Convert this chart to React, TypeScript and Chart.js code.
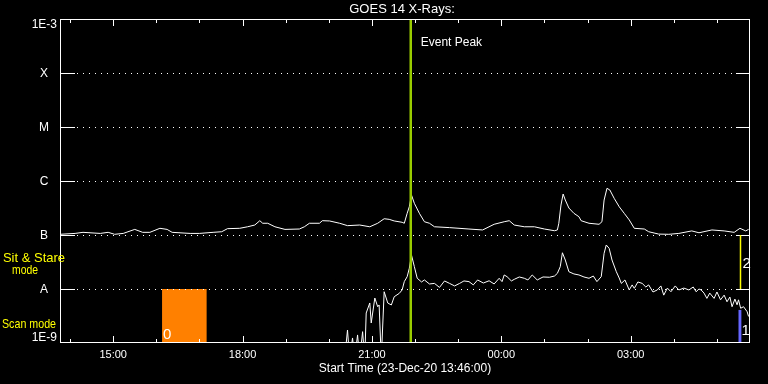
import { useEffect, useRef } from "react";
import { Chart, registerables } from "chart.js";

Chart.register(...registerables);

// ---------- data (minutes since start 23-Dec-20 13:46:00, flux W/m^2) ----------
const TITLE = "GOES 14 X-Rays:";
const X_TITLE = "Start Time (23-Dec-20 13:46:00)";

const longTimes = [
  0, 21, 32, 56, 67, 76, 88, 104, 115, 125, 139, 149, 156, 181, 194, 213, 225, 233, 250,
  261, 271, 278, 282, 289, 299, 313, 333, 340, 347, 361, 365, 375, 389, 400, 417, 431, 442,
  451, 458, 465, 476, 479, 483, 486, 489, 493, 500, 507, 514, 521, 542, 569, 588, 604, 618,
  625, 632, 646, 660, 674, 688, 692, 694, 697, 700, 703, 708, 715, 722, 725, 736, 750, 754,
  757, 761, 765, 771, 778, 785, 792, 799, 813, 819, 833, 847, 861, 879, 889, 907, 924, 938,
  946, 954, 958,
];
const longFlux = [
  1.03e-7, 1.07e-7, 1.12e-7, 1.07e-7, 1.12e-7, 1.03e-7, 1.07e-7, 1.27e-7, 1.12e-7, 1.12e-7,
  1.33e-7, 1.27e-7, 1.12e-7, 1.07e-7, 1.07e-7, 1.12e-7, 1.15e-7, 1.31e-7, 1.33e-7,
  1.42e-7, 1.53e-7, 1.84e-7, 1.65e-7, 1.65e-7, 1.42e-7, 1.27e-7, 1.29e-7, 1.42e-7, 1.65e-7,
  1.65e-7, 1.84e-7, 1.82e-7, 1.65e-7, 1.49e-7, 1.53e-7, 1.42e-7, 1.65e-7,
  2.0e-7, 1.95e-7, 1.82e-7, 1.72e-7, 1.65e-7, 2.52e-7, 3.34e-7, 5.5e-7, 3.86e-7, 2.52e-7,
  1.76e-7, 1.65e-7, 1.42e-7, 1.37e-7, 1.29e-7, 1.24e-7, 1.58e-7, 1.76e-7,
  1.84e-7, 1.53e-7, 1.42e-7, 1.42e-7, 1.29e-7, 1.2e-7, 1.24e-7, 1.65e-7, 3.59e-7, 5.74e-7,
  4.44e-7, 3.16e-7, 2.52e-7, 2.18e-7, 1.84e-7, 1.65e-7, 1.58e-7, 1.76e-7,
  4.44e-7, 7.33e-7, 6.81e-7, 4.78e-7, 3.34e-7, 2.52e-7, 1.9e-7, 1.33e-7, 1.29e-7, 1.15e-7,
  1.04e-7, 1.03e-7, 1.07e-7, 1.19e-7, 1.1e-7, 1.24e-7, 1.19e-7, 1.12e-7,
  1.33e-7, 1.19e-7, 1.27e-7,
];

const shortTimes = [
  396, 400, 403, 407, 410, 414, 417, 421, 424, 426, 431, 433, 438, 442, 444, 447, 451, 456,
  461, 465, 472, 476, 479, 483, 486, 489, 493, 497, 503, 507, 514, 521, 528, 535, 542, 549,
  556, 562, 569, 575, 581, 589, 597, 604, 611, 615, 618, 622, 628, 632, 639, 646, 651, 657,
  664, 672, 681, 688, 692, 696, 699, 703, 708, 715, 722, 729, 736, 742, 747, 753, 757, 760,
  764, 768, 774, 778, 781, 786, 792, 796, 799, 804, 810, 815, 819, 825, 831, 836, 840, 845,
  850, 856, 861, 868, 875, 881, 885, 889, 892, 896, 900, 904, 910, 914, 919, 924, 928, 932,
  935, 939, 942, 944, 947, 951, 956, 958,
];
const shortFlux = [
  5e-10, 1.74e-9, 5e-10, 1.24e-9, 5e-10, 1.41e-9, 5e-10, 1.62e-9, 5e-10, 3.59e-9, 5.51e-9,
  2.35e-9, 6.81e-9, 4.7e-9, 5.06e-9, 5e-10, 8.9e-9, 5.5e-9,
  5.06e-9, 7.2e-9, 8.3e-9, 9.6e-9, 1.37e-8, 1.69e-8, 2.42e-8, 4.26e-8, 2.59e-8, 1.58e-8,
  1.35e-8, 1.47e-8, 1.24e-8, 1.27e-8, 1.07e-8, 1.41e-8, 1.27e-8, 1.14e-8,
  1.27e-8, 1.41e-8, 1.37e-8, 1.19e-8, 1.47e-8, 1.29e-8, 1.42e-8, 1.24e-8, 1.58e-8, 1.37e-8,
  1.82e-8, 1.69e-8, 1.41e-8, 1.51e-8, 1.67e-8, 1.58e-8, 1.47e-8, 1.82e-8,
  1.47e-8, 1.67e-8, 1.65e-8, 1.74e-8, 1.95e-8, 2.59e-8, 4.69e-8, 3.44e-8, 2.09e-8, 1.9e-8,
  1.82e-8, 1.67e-8, 1.58e-8, 1.74e-8, 1.37e-8, 1.69e-8, 4.58e-8, 6.53e-8,
  5.67e-8, 3.44e-8, 2.09e-8, 1.6e-8, 1.27e-8, 1.47e-8, 0.96e-8, 1.19e-8, 1.03e-8, 1.35e-8,
  1.27e-8, 1.09e-8, 1.19e-8, 0.88e-8, 0.96e-8, 1.14e-8, 0.77e-8, 1.04e-8,
  0.89e-8, 1.14e-8, 0.96e-8, 1.04e-8, 0.96e-8, 1.09e-8, 0.89e-8, 1.0e-8, 0.96e-8, 0.84e-8,
  0.67e-8, 0.84e-8, 0.67e-8, 0.88e-8, 0.63e-8, 0.77e-8, 0.58e-8, 0.71e-8,
  0.47e-8, 0.65e-8, 0.51e-8, 0.63e-8, 0.44e-8, 0.47e-8, 0.38e-8, 0.31e-8,
];

const X_MIN = 0;
const X_MAX = 960;
const xTickMinutes = [74, 254, 434, 614, 794];
const xTickLabels = ["15:00", "18:00", "21:00", "00:00", "03:00"];
const hourTickMinutes = [14, 74, 134, 194, 254, 314, 374, 434, 494, 554, 614, 674, 734, 794, 854, 914];
const yDecades = [1e-3, 1e-4, 1e-5, 1e-6, 1e-7, 1e-8, 1e-9];
const yLabels = ["1E-3", "X", "M", "C", "B", "A", "1E-9"];

const eventPeakMinute = 488;
const scanBlock = [142, 204]; // orange scan-mode interval, label "0"
const scanBar = [944, 948]; // blue scan-mode interval, label "1"
const scanBarTop = 4.1e-9;
const stareMinute = 946; // sit & stare marker, label "2"

const FONT = "'Liberation Sans', Arial, sans-serif";

const goesPlugin = {
  id: "goesDecor",
  beforeDraw(chart: any) {
    const { ctx, width, height } = chart;
    ctx.save();
    ctx.fillStyle = "#000000";
    ctx.fillRect(0, 0, width, height);
    ctx.restore();
  },
  beforeDatasetsDraw(chart: any) {
    const { ctx, chartArea: a, scales } = chart;
    const x = scales.x;
    const y = scales.y;
    ctx.save();
    // orange scan block
    const bx0 = x.getPixelForValue(scanBlock[0]);
    const bx1 = x.getPixelForValue(scanBlock[1]);
    const byT = y.getPixelForValue(1e-8);
    const byB = y.getPixelForValue(1e-9);
    ctx.fillStyle = "#ff8000";
    ctx.fillRect(bx0, byT, bx1 - bx0, byB - byT);
    ctx.fillStyle = "#ffffff";
    ctx.font = `15px ${FONT}`;
    ctx.textAlign = "left";
    ctx.textBaseline = "alphabetic";
    ctx.fillText("0", bx0 + 1, byB - 4);

    // blue bar
    const ux0 = x.getPixelForValue(scanBar[0]);
    const ux1 = x.getPixelForValue(scanBar[1]);
    const uyT = y.getPixelForValue(scanBarTop);
    ctx.fillStyle = "#6666ff";
    ctx.fillRect(ux0, uyT, ux1 - ux0, byB - uyT);

    // dotted grid lines
    ctx.strokeStyle = "#ffffff";
    ctx.lineWidth = 1;
    ctx.setLineDash([1, 5]);
    for (let i = 1; i < yDecades.length - 1; i++) {
      const py = Math.round(y.getPixelForValue(yDecades[i])) + 0.5;
      ctx.beginPath();
      ctx.moveTo(a.left + 17, py);
      ctx.lineTo(a.right - 14, py);
      ctx.stroke();
    }
    ctx.restore();
  },
  afterDatasetsDraw(chart: any) {
    const { ctx, chartArea: a, scales } = chart;
    const x = scales.x;
    const y = scales.y;
    ctx.save();
    // event peak line
    const ex = x.getPixelForValue(eventPeakMinute);
    ctx.strokeStyle = "#99cc00";
    ctx.lineWidth = 2.5;
    ctx.beginPath();
    ctx.moveTo(ex, a.top);
    ctx.lineTo(ex, a.bottom);
    ctx.stroke();

    ctx.fillStyle = "#ffffff";
    ctx.font = `12px ${FONT}`;
    ctx.textAlign = "left";
    ctx.textBaseline = "middle";
    ctx.fillText("Event Peak", ex + 10, 43);

    // axes box
    ctx.strokeStyle = "#ffffff";
    ctx.lineWidth = 1;
    ctx.strokeRect(Math.round(a.left) + 0.5, Math.round(a.top) + 0.5, Math.round(a.right - a.left) - 1, Math.round(a.bottom - a.top) - 1);

    // hour ticks top & bottom
    for (const m of hourTickMinutes) {
      const px = Math.round(x.getPixelForValue(m)) + 0.5;
      const major = xTickMinutes.includes(m);
      const len = major ? 7 : 4;
      ctx.beginPath();
      ctx.moveTo(px, a.bottom);
      ctx.lineTo(px, a.bottom - len);
      ctx.moveTo(px, a.top);
      ctx.lineTo(px, a.top + len);
      ctx.stroke();
    }
    // decade ticks left & right
    for (let i = 1; i < yDecades.length - 1; i++) {
      const py = Math.round(y.getPixelForValue(yDecades[i])) + 0.5;
      ctx.beginPath();
      ctx.moveTo(a.left, py);
      ctx.lineTo(a.left + 15, py);
      ctx.moveTo(a.right, py);
      ctx.lineTo(a.right - 14, py);
      ctx.stroke();
    }

    // sit & stare bracket
    const sx = Math.round(x.getPixelForValue(stareMinute)) + 0.5;
    const sTop = y.getPixelForValue(1e-7);
    const sBot = y.getPixelForValue(1e-8);
    ctx.strokeStyle = "#ffff00";
    ctx.lineWidth = 1.5;
    ctx.beginPath();
    ctx.moveTo(sx, sTop);
    ctx.lineTo(sx, sBot);
    ctx.stroke();

    ctx.fillStyle = "#ffffff";
    ctx.font = `15px ${FONT}`;
    ctx.textAlign = "left";
    ctx.textBaseline = "middle";
    ctx.fillText("2", sx + 2, (sTop + sBot) / 2 + 2);
    ctx.fillText("1", sx + 1, y.getPixelForValue(1e-9) - 12);

    // y labels
    ctx.font = `12px ${FONT}`;
    ctx.fillStyle = "#ffffff";
    for (let i = 0; i < yDecades.length; i++) {
      const py = y.getPixelForValue(yDecades[i]);
      if (i === 0) {
        ctx.textAlign = "right";
        ctx.textBaseline = "top";
        ctx.fillText(yLabels[i], a.left - 3, py);
      } else if (i === yDecades.length - 1) {
        ctx.textAlign = "right";
        ctx.textBaseline = "bottom";
        ctx.fillText(yLabels[i], a.left - 3, py + 1);
      } else {
        ctx.textAlign = "center";
        ctx.textBaseline = "middle";
        ctx.fillText(yLabels[i], 44, py + 1);
      }
    }

    // mode labels
    ctx.fillStyle = "#ffff00";
    ctx.font = `13px ${FONT}`;
    ctx.textAlign = "center";
    ctx.textBaseline = "middle";
    ctx.fillText("Sit & Stare", 34, 258, 66);
    ctx.fillText("mode", 25, 270, 26);
    ctx.textAlign = "left";
    ctx.fillText("Scan mode", 2, 324, 54);

    // x tick labels
    ctx.fillStyle = "#ffffff";
    ctx.font = `11px ${FONT}`;
    ctx.textAlign = "center";
    ctx.textBaseline = "middle";
    xTickMinutes.forEach((m, i) => {
      ctx.fillText(xTickLabels[i], x.getPixelForValue(m), 355);
    });

    // titles
    ctx.font = `12px ${FONT}`;
    ctx.fillText(X_TITLE, (a.left + a.right) / 2, 369);
    ctx.font = `13px ${FONT}`;
    ctx.fillText(TITLE, (a.left + a.right) / 2 - 3, 9);
    ctx.restore();
  },
};

export default function App() {
  const ref = useRef<HTMLCanvasElement | null>(null);
  useEffect(() => {
    if (!ref.current) return;
    const chart = new Chart(ref.current, {
      type: "line",
      data: {
        datasets: [
          {
            label: "1-8 A",
            data: longTimes.map((t, i) => ({ x: t, y: longFlux[i] })),
            borderColor: "#ffffff",
            borderWidth: 1,
            pointRadius: 0,
            tension: 0,
          },
          {
            label: "0.5-4 A",
            data: shortTimes.map((t, i) => ({ x: t, y: shortFlux[i] })),
            borderColor: "#ffffff",
            borderWidth: 1,
            pointRadius: 0,
            tension: 0,
          },
        ],
      },
      options: {
        animation: false,
        responsive: false,
        maintainAspectRatio: false,
        layout: { padding: { left: 60, top: 19, right: 18, bottom: 41 } },
        plugins: { legend: { display: false }, tooltip: { enabled: false }, title: { display: false } },
        scales: {
          x: { type: "linear", min: X_MIN, max: X_MAX, display: false },
          y: { type: "logarithmic", min: 1e-9, max: 1e-3, display: false },
        },
      },
      plugins: [goesPlugin],
    } as any);
    return () => chart.destroy();
  }, []);
  return (
    <div style={{ position: "fixed", left: 0, top: 0, width: 768, height: 384, background: "#000" }}>
      <canvas ref={ref} width={768} height={384} style={{ display: "block" }} />
    </div>
  );
}
